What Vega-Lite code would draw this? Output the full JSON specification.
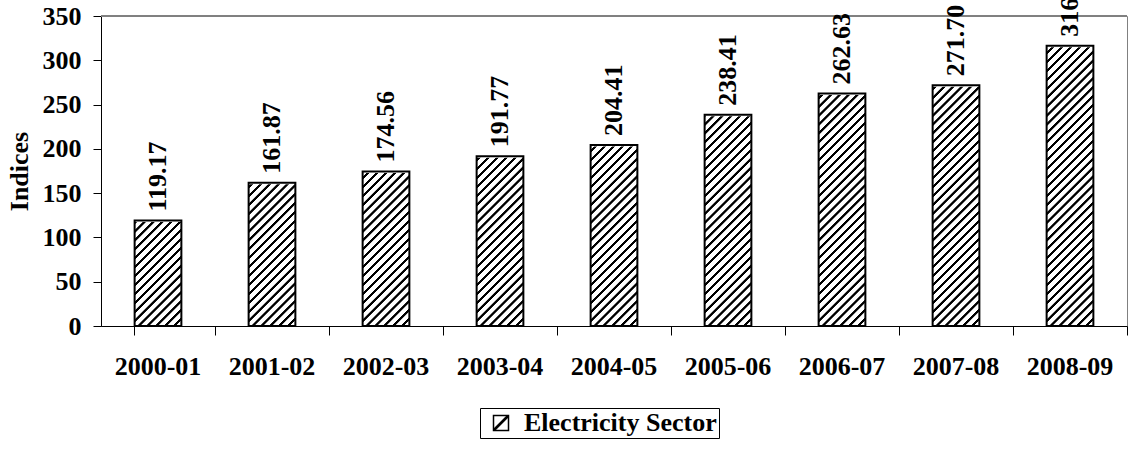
{
  "$schema": "https://vega.github.io/schema/vega-lite/v6.json",
  "width": 1026,
  "height": 310,
  "autosize": "none",
  "padding": {"left": 101, "top": 16, "right": 3, "bottom": 123},
  "background": "white",
  "config": {
    "view": {"stroke": "#808080", "strokeWidth": 1},
    "font": "Liberation Serif",
    "axis": {"labelFont": "Liberation Serif", "titleFont": "Liberation Serif", "labelFontWeight": "bold", "titleFontWeight": "bold", "labelFontSize": 26, "titleFontSize": 26, "labelColor": "black", "titleColor": "black", "domainColor": "black", "tickColor": "black", "domainWidth": 1, "tickWidth": 1, "grid": false},
    "legend": {"labelFont": "Liberation Serif"}
  },
  "data": {
    "values": [
      {"period": "2000-01", "value": 119.17},
      {"period": "2001-02", "value": 161.87},
      {"period": "2002-03", "value": 174.56},
      {"period": "2003-04", "value": 191.77},
      {"period": "2004-05", "value": 204.41},
      {"period": "2005-06", "value": 238.41},
      {"period": "2006-07", "value": 262.63},
      {"period": "2007-08", "value": 271.70},
      {"period": "2008-09", "value": 316.30}
    ]
  },
  "layer": [
    {
      "mark": {"type": "bar", "strokeWidth": 0, "fill": {"gradient": "linear", "x1": 0, "y1": 0, "x2": 0.1695, "y2": 1.1251, "stops": [
        {"offset": 0, "color": "#fff"}, {"offset": 0.00125, "color": "#000"}, {"offset": 0.00875, "color": "#000"}, {"offset": 0.01, "color": "#fff"},
        {"offset": 0.025, "color": "#fff"}, {"offset": 0.02625, "color": "#000"}, {"offset": 0.03375, "color": "#000"}, {"offset": 0.035, "color": "#fff"},
        {"offset": 0.05, "color": "#fff"}, {"offset": 0.05125, "color": "#000"}, {"offset": 0.05875, "color": "#000"}, {"offset": 0.06, "color": "#fff"},
        {"offset": 0.075, "color": "#fff"}, {"offset": 0.07625, "color": "#000"}, {"offset": 0.08375, "color": "#000"}, {"offset": 0.085, "color": "#fff"},
        {"offset": 0.1, "color": "#fff"}, {"offset": 0.10125, "color": "#000"}, {"offset": 0.10875, "color": "#000"}, {"offset": 0.11, "color": "#fff"},
        {"offset": 0.125, "color": "#fff"}, {"offset": 0.12625, "color": "#000"}, {"offset": 0.13375, "color": "#000"}, {"offset": 0.135, "color": "#fff"},
        {"offset": 0.15, "color": "#fff"}, {"offset": 0.15125, "color": "#000"}, {"offset": 0.15875, "color": "#000"}, {"offset": 0.16, "color": "#fff"},
        {"offset": 0.175, "color": "#fff"}, {"offset": 0.17625, "color": "#000"}, {"offset": 0.18375, "color": "#000"}, {"offset": 0.185, "color": "#fff"},
        {"offset": 0.2, "color": "#fff"}, {"offset": 0.20125, "color": "#000"}, {"offset": 0.20875, "color": "#000"}, {"offset": 0.21, "color": "#fff"},
        {"offset": 0.225, "color": "#fff"}, {"offset": 0.22625, "color": "#000"}, {"offset": 0.23375, "color": "#000"}, {"offset": 0.235, "color": "#fff"},
        {"offset": 0.25, "color": "#fff"}, {"offset": 0.25125, "color": "#000"}, {"offset": 0.25875, "color": "#000"}, {"offset": 0.26, "color": "#fff"},
        {"offset": 0.275, "color": "#fff"}, {"offset": 0.27625, "color": "#000"}, {"offset": 0.28375, "color": "#000"}, {"offset": 0.285, "color": "#fff"},
        {"offset": 0.3, "color": "#fff"}, {"offset": 0.30125, "color": "#000"}, {"offset": 0.30875, "color": "#000"}, {"offset": 0.31, "color": "#fff"},
        {"offset": 0.325, "color": "#fff"}, {"offset": 0.32625, "color": "#000"}, {"offset": 0.33375, "color": "#000"}, {"offset": 0.335, "color": "#fff"},
        {"offset": 0.35, "color": "#fff"}, {"offset": 0.35125, "color": "#000"}, {"offset": 0.35875, "color": "#000"}, {"offset": 0.36, "color": "#fff"},
        {"offset": 0.375, "color": "#fff"}, {"offset": 0.37625, "color": "#000"}, {"offset": 0.38375, "color": "#000"}, {"offset": 0.385, "color": "#fff"},
        {"offset": 0.4, "color": "#fff"}, {"offset": 0.40125, "color": "#000"}, {"offset": 0.40875, "color": "#000"}, {"offset": 0.41, "color": "#fff"},
        {"offset": 0.425, "color": "#fff"}, {"offset": 0.42625, "color": "#000"}, {"offset": 0.43375, "color": "#000"}, {"offset": 0.435, "color": "#fff"},
        {"offset": 0.45, "color": "#fff"}, {"offset": 0.45125, "color": "#000"}, {"offset": 0.45875, "color": "#000"}, {"offset": 0.46, "color": "#fff"},
        {"offset": 0.475, "color": "#fff"}, {"offset": 0.47625, "color": "#000"}, {"offset": 0.48375, "color": "#000"}, {"offset": 0.485, "color": "#fff"},
        {"offset": 0.5, "color": "#fff"}, {"offset": 0.50125, "color": "#000"}, {"offset": 0.50875, "color": "#000"}, {"offset": 0.51, "color": "#fff"},
        {"offset": 0.525, "color": "#fff"}, {"offset": 0.52625, "color": "#000"}, {"offset": 0.53375, "color": "#000"}, {"offset": 0.535, "color": "#fff"},
        {"offset": 0.55, "color": "#fff"}, {"offset": 0.55125, "color": "#000"}, {"offset": 0.55875, "color": "#000"}, {"offset": 0.56, "color": "#fff"},
        {"offset": 0.575, "color": "#fff"}, {"offset": 0.57625, "color": "#000"}, {"offset": 0.58375, "color": "#000"}, {"offset": 0.585, "color": "#fff"},
        {"offset": 0.6, "color": "#fff"}, {"offset": 0.60125, "color": "#000"}, {"offset": 0.60875, "color": "#000"}, {"offset": 0.61, "color": "#fff"},
        {"offset": 0.625, "color": "#fff"}, {"offset": 0.62625, "color": "#000"}, {"offset": 0.63375, "color": "#000"}, {"offset": 0.635, "color": "#fff"},
        {"offset": 0.65, "color": "#fff"}, {"offset": 0.65125, "color": "#000"}, {"offset": 0.65875, "color": "#000"}, {"offset": 0.66, "color": "#fff"},
        {"offset": 0.675, "color": "#fff"}, {"offset": 0.67625, "color": "#000"}, {"offset": 0.68375, "color": "#000"}, {"offset": 0.685, "color": "#fff"},
        {"offset": 0.7, "color": "#fff"}, {"offset": 0.70125, "color": "#000"}, {"offset": 0.70875, "color": "#000"}, {"offset": 0.71, "color": "#fff"},
        {"offset": 0.725, "color": "#fff"}, {"offset": 0.72625, "color": "#000"}, {"offset": 0.73375, "color": "#000"}, {"offset": 0.735, "color": "#fff"},
        {"offset": 0.75, "color": "#fff"}, {"offset": 0.75125, "color": "#000"}, {"offset": 0.75875, "color": "#000"}, {"offset": 0.76, "color": "#fff"},
        {"offset": 0.775, "color": "#fff"}, {"offset": 0.77625, "color": "#000"}, {"offset": 0.78375, "color": "#000"}, {"offset": 0.785, "color": "#fff"},
        {"offset": 0.8, "color": "#fff"}, {"offset": 0.80125, "color": "#000"}, {"offset": 0.80875, "color": "#000"}, {"offset": 0.81, "color": "#fff"},
        {"offset": 0.825, "color": "#fff"}, {"offset": 0.82625, "color": "#000"}, {"offset": 0.83375, "color": "#000"}, {"offset": 0.835, "color": "#fff"},
        {"offset": 0.85, "color": "#fff"}, {"offset": 0.85125, "color": "#000"}, {"offset": 0.85875, "color": "#000"}, {"offset": 0.86, "color": "#fff"},
        {"offset": 0.875, "color": "#fff"}, {"offset": 0.87625, "color": "#000"}, {"offset": 0.88375, "color": "#000"}, {"offset": 0.885, "color": "#fff"},
        {"offset": 0.9, "color": "#fff"}, {"offset": 0.90125, "color": "#000"}, {"offset": 0.90875, "color": "#000"}, {"offset": 0.91, "color": "#fff"},
        {"offset": 0.925, "color": "#fff"}, {"offset": 0.92625, "color": "#000"}, {"offset": 0.93375, "color": "#000"}, {"offset": 0.935, "color": "#fff"},
        {"offset": 0.95, "color": "#fff"}, {"offset": 0.95125, "color": "#000"}, {"offset": 0.95875, "color": "#000"}, {"offset": 0.96, "color": "#fff"},
        {"offset": 0.975, "color": "#fff"}, {"offset": 0.97625, "color": "#000"}, {"offset": 0.98375, "color": "#000"}, {"offset": 0.985, "color": "#fff"},
        {"offset": 1, "color": "#fff"}
      ]}},
      "encoding": {
        "x": {"field": "period", "type": "nominal", "sort": null,
          "scale": {"paddingInner": 0.59, "paddingOuter": 0.295},
          "axis": {"title": null, "labelAngle": 0, "tickSize": 9, "grid": false, "bandPosition": 1.72, "tickExtra": true, "labelPadding": 18}},
        "y": {"datum": 350, "type": "quantitative", "scale": {"domain": [0, 350], "nice": false},
          "axis": {"title": "Indices", "values": [0, 50, 100, 150, 200, 250, 300, 350], "tickSize": 8, "labelPadding": 12, "titlePadding": 10}},
        "y2": {"datum": 0}
      }
    },
    {
      "mark": {"type": "bar", "fill": "white", "stroke": "white", "strokeWidth": 3},
      "encoding": {
        "x": {"field": "period", "type": "nominal", "sort": null},
        "y": {"field": "value", "type": "quantitative"},
        "y2": {"datum": 350}
      }
    },
    {
      "mark": {"type": "rule", "color": "#808080", "strokeWidth": 1},
      "encoding": {"y": {"datum": 350, "type": "quantitative"}}
    },
    {
      "mark": {"type": "bar", "fillOpacity": 0, "strokeWidth": 2,
        "fill": {"gradient": "linear", "x1": 0, "y1": 0, "x2": 1, "y2": 1, "stops": [
          {"offset": 0, "color": "#fff"}, {"offset": 0.42, "color": "#fff"}, {"offset": 0.45, "color": "#000"}, {"offset": 0.55, "color": "#000"}, {"offset": 0.58, "color": "#fff"}, {"offset": 1, "color": "#fff"}]}},
      "encoding": {
        "x": {"field": "period", "type": "nominal", "sort": null},
        "y": {"field": "value", "type": "quantitative"},
        "stroke": {"datum": "Electricity Sector", "type": "nominal", "scale": {"range": ["black"]},
          "legend": {"title": null, "orient": "none", "legendX": 379, "legendY": 392, "padding": 2, "strokeColor": "black", "cornerRadius": 0,
            "symbolType": "square", "symbolSize": 225, "symbolStrokeWidth": 1.5, "symbolOpacity": 1, "symbolOffset": 6, "labelOffset": 10, "labelLimit": 400,
            "labelFont": "Liberation Serif", "labelFontWeight": "bold", "labelFontSize": 26, "labelColor": "black"}}
      }
    },
    {
      "mark": {"type": "text", "angle": 270, "align": "left", "baseline": "middle", "dx": 9, "font": "Liberation Serif", "fontWeight": "bold", "fontSize": 26, "color": "black"},
      "encoding": {
        "x": {"field": "period", "type": "nominal", "sort": null},
        "y": {"field": "value", "type": "quantitative"},
        "text": {"field": "value", "type": "quantitative", "format": ".2f"}
      }
    }
  ]
}
